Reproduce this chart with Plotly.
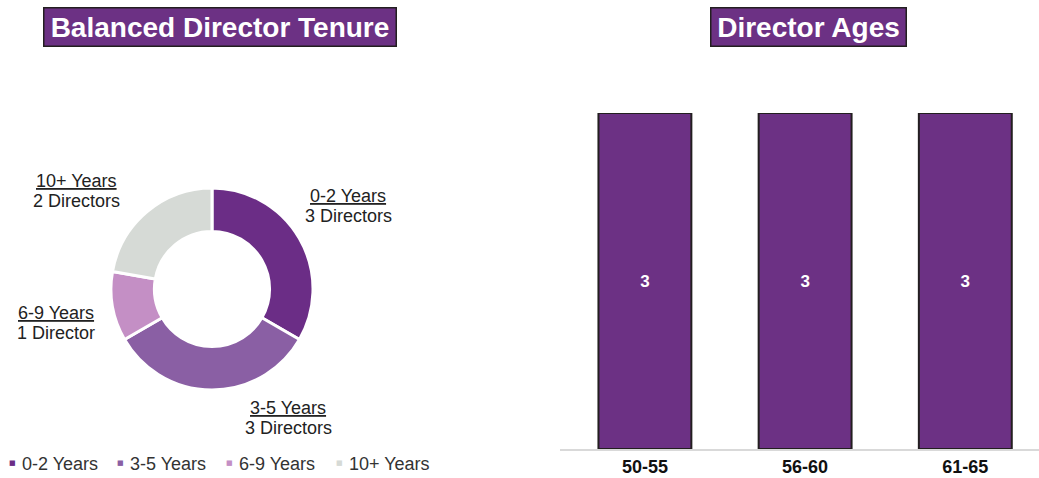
import plotly.graph_objects as go

# ---- data ----
tenure_labels = ["0-2 Years", "3-5 Years", "6-9 Years", "10+ Years"]
tenure_counts = [3, 3, 1, 2]
tenure_units = ["3 Directors", "3 Directors", "1 Director", "2 Directors"]
tenure_colors = ["#6B2D86", "#8A5FA4", "#C48FC5", "#D6DAD6"]

age_groups = ["50-55", "56-60", "61-65"]
age_counts = [3, 3, 3]

PURPLE = "#6C3184"
FONT = "Liberation Sans, Arial, sans-serif"
W, H = 1039, 478

def px(x):
    return x / W

def py(y):
    return 1 - y / H

fig = go.Figure()

fig.add_trace(go.Pie(
    labels=tenure_labels, values=tenure_counts,
    marker=dict(colors=tenure_colors, line=dict(color="white", width=3)),
    hole=0.57, sort=False, direction="clockwise", rotation=0,
    textinfo="none", hoverinfo="label+value",
    domain=dict(x=[px(111), px(313)], y=[py(390), py(188)]),
    showlegend=False,
))

fig.add_trace(go.Bar(
    x=age_groups, y=age_counts,
    marker=dict(color=PURPLE, line=dict(color="#231F20", width=2)),
    width=0.58,
    text=[str(v) for v in age_counts], textposition="inside",
    insidetextanchor="middle",
    textfont=dict(color="white", size=17, family=FONT, weight="bold"),
    xaxis="x", yaxis="y", showlegend=False,
))

fig.update_layout(
    width=W, height=H,
    margin=dict(l=0, r=0, t=0, b=0),
    paper_bgcolor="white", plot_bgcolor="white",
    font=dict(family=FONT, color="#222"),
    uniformtext=dict(minsize=17, mode="show"),
    xaxis=dict(domain=[px(560), 1], range=[-0.53, 2.46],
               showline=True, linecolor="#D9D9D9", linewidth=2,
               showgrid=False, zeroline=False, ticks="",
               tickfont=dict(size=18, color="#111", family=FONT, weight="bold")),
    yaxis=dict(domain=[py(449), py(113)], range=[0, 3],
               showgrid=False, zeroline=False, showticklabels=False, showline=False),
)

annotations = []
# title boxes
for text, x0, x1 in [("Balanced Director Tenure", 43, 397), ("Director Ages", 710, 907)]:
    annotations.append(dict(
        text=f"<b>{text}</b>", xref="paper", yref="paper",
        x=px((x0 + x1) / 2), y=py(27), xanchor="center", yanchor="middle",
        showarrow=False, bgcolor=PURPLE, bordercolor="#231F20", borderwidth=1.5,
        borderpad=0, width=x1 - x0 - 3, height=37,
        font=dict(size=28, color="white", family=FONT),
    ))

# pie labels (two lines each)
label_pos = [(348, 196), (288, 408), (56, 313), (76, 181)]
for lab, unit, (x, y) in zip(tenure_labels, tenure_units, label_pos):
    annotations.append(dict(
        text=f"<u>{lab}</u>", xref="paper", yref="paper",
        x=px(x), y=py(y), xanchor="center", yanchor="middle", showarrow=False,
        font=dict(size=18, color="#222"),
    ))
    annotations.append(dict(
        text=unit, xref="paper", yref="paper",
        x=px(x), y=py(y + 20), xanchor="center", yanchor="middle", showarrow=False,
        font=dict(size=18, color="#222"),
    ))

# legend
legend_x = [20, 128, 237, 347]
for lab, col, x in zip(tenure_labels, tenure_colors, legend_x):
    annotations.append(dict(
        text="■", xref="paper", yref="paper", x=px(x - 8), y=py(463),
        xanchor="center", yanchor="middle", showarrow=False,
        font=dict(size=7, color=col, family="DejaVu Sans"),
    ))
    annotations.append(dict(
        text=lab, xref="paper", yref="paper", x=px(x), y=py(464),
        xanchor="left", yanchor="middle", showarrow=False,
        font=dict(size=18, color="#333"),
    ))

fig.update_layout(annotations=annotations)

fig.write_html("out.html", config=dict(displayModeBar=False),
               post_script="document.body.style.margin='0';document.body.style.overflow='hidden';")
